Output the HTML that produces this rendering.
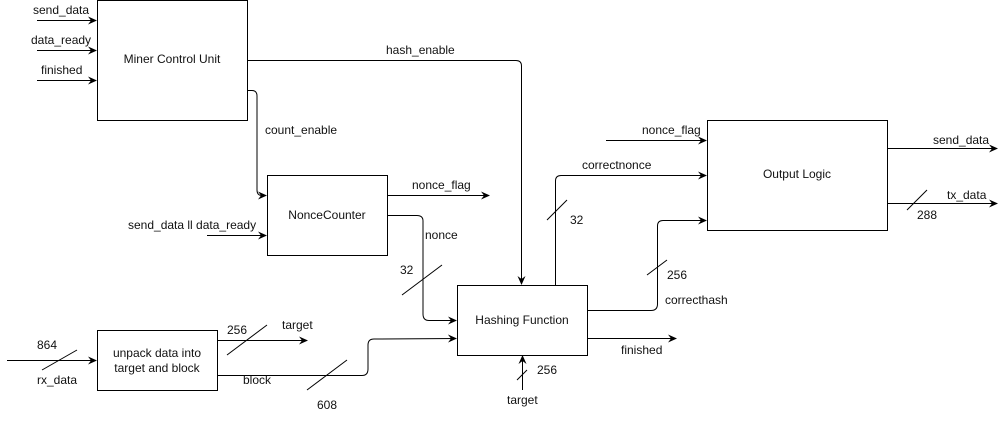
<!DOCTYPE html>
<html><head><meta charset="utf-8"><style>
html,body{margin:0;padding:0;background:#fff;}
svg{display:block;}
text{font-family:"Liberation Sans",Arial,sans-serif;font-size:12px;fill:#111;}
</style></head><body>
<svg width="1007" height="424" viewBox="0 0 1007 424" xmlns="http://www.w3.org/2000/svg">
<defs><marker id="a" markerWidth="10" markerHeight="8" refX="8" refY="4" orient="auto" markerUnits="userSpaceOnUse"><path d="M0,0 L9,4 L0,8 L3,4 Z" fill="#000"/></marker></defs>
<g fill="none" stroke="#000" stroke-width="1">
<rect x="97.5" y="0.5" width="150" height="120"/>
<rect x="267.5" y="175.5" width="120" height="80"/>
<rect x="457.5" y="285.5" width="130" height="70"/>
<rect x="97.5" y="330.5" width="120" height="60"/>
<rect x="707.5" y="120.5" width="180" height="110"/>
<g marker-end="url(#a)">
<path d="M37 20.5 H96"/><path d="M37 50.5 H96"/><path d="M37 80.5 H96"/>
<path d="M248 60.5 H516 Q521.5 60.5 521.5 66 V284"/>
<path d="M248 90.5 H252 Q257 90.5 257 96 V190 Q257 195.5 262 195.5 H266"/>
<path d="M388 195.5 H489"/>
<path d="M207 235.5 H266"/>
<path d="M388 215.5 H417 Q423 215.5 423 221 V314 Q423 320.5 429 320.5 H456"/>
<path d="M7 360.5 H96"/>
<path d="M218 340.5 H307"/>
<path d="M218 375.5 H362 Q368 375.5 368 369 V345 Q368 339 374 339 L456 338.5"/>
<path d="M555.5 285 V181 Q555.5 175.5 561 175.5 H706"/>
<path d="M588 310.5 H651 Q657.5 310.5 657.5 304 V226 Q657.5 220.5 663 220.5 H706"/>
<path d="M588 338.5 H676"/>
<path d="M522.5 390 V356"/>
<path d="M606 140.5 H706"/>
<path d="M888 148.5 H997"/>
<path d="M888 203.5 H997"/>
</g>
<path d="M402 295 L442 265"/><path d="M42 370 L77 350"/><path d="M227 355 L267 325"/><path d="M307 390 L347 360"/>
<path d="M547 220 L567 200"/><path d="M647 275 L667 260"/><path d="M517 380 L527 370"/><path d="M907 210 L927 190"/>
</g>
<text x="33" y="14">send_data</text>
<text x="31" y="44">data_ready</text>
<text x="41" y="74">finished</text>
<text x="172" y="63" text-anchor="middle">Miner Control Unit</text>
<text x="386" y="54">hash_enable</text>
<text x="265" y="134">count_enable</text>
<text x="327" y="219" text-anchor="middle">NonceCounter</text>
<text x="412" y="189">nonce_flag</text>
<text x="128" y="229">send_data ll data_ready</text>
<text x="425" y="239">nonce</text>
<text x="400" y="274">32</text>
<text x="522" y="324" text-anchor="middle">Hashing Function</text>
<text x="37" y="349">864</text>
<text x="37" y="384">rx_data</text>
<text x="157" y="357" text-anchor="middle">unpack data into</text>
<text x="157" y="372" text-anchor="middle">target and block</text>
<text x="227" y="334">256</text>
<text x="282" y="329">target</text>
<text x="243" y="384">block</text>
<text x="317" y="409">608</text>
<text x="582" y="169">correctnonce</text>
<text x="570" y="224">32</text>
<text x="667" y="279">256</text>
<text x="665" y="304">correcthash</text>
<text x="621" y="354">finished</text>
<text x="537" y="374">256</text>
<text x="507" y="404">target</text>
<text x="642" y="134">nonce_flag</text>
<text x="797" y="178" text-anchor="middle">Output Logic</text>
<text x="933" y="144">send_data</text>
<text x="947" y="199">tx_data</text>
<text x="917" y="219">288</text>
</svg>
</body></html>
